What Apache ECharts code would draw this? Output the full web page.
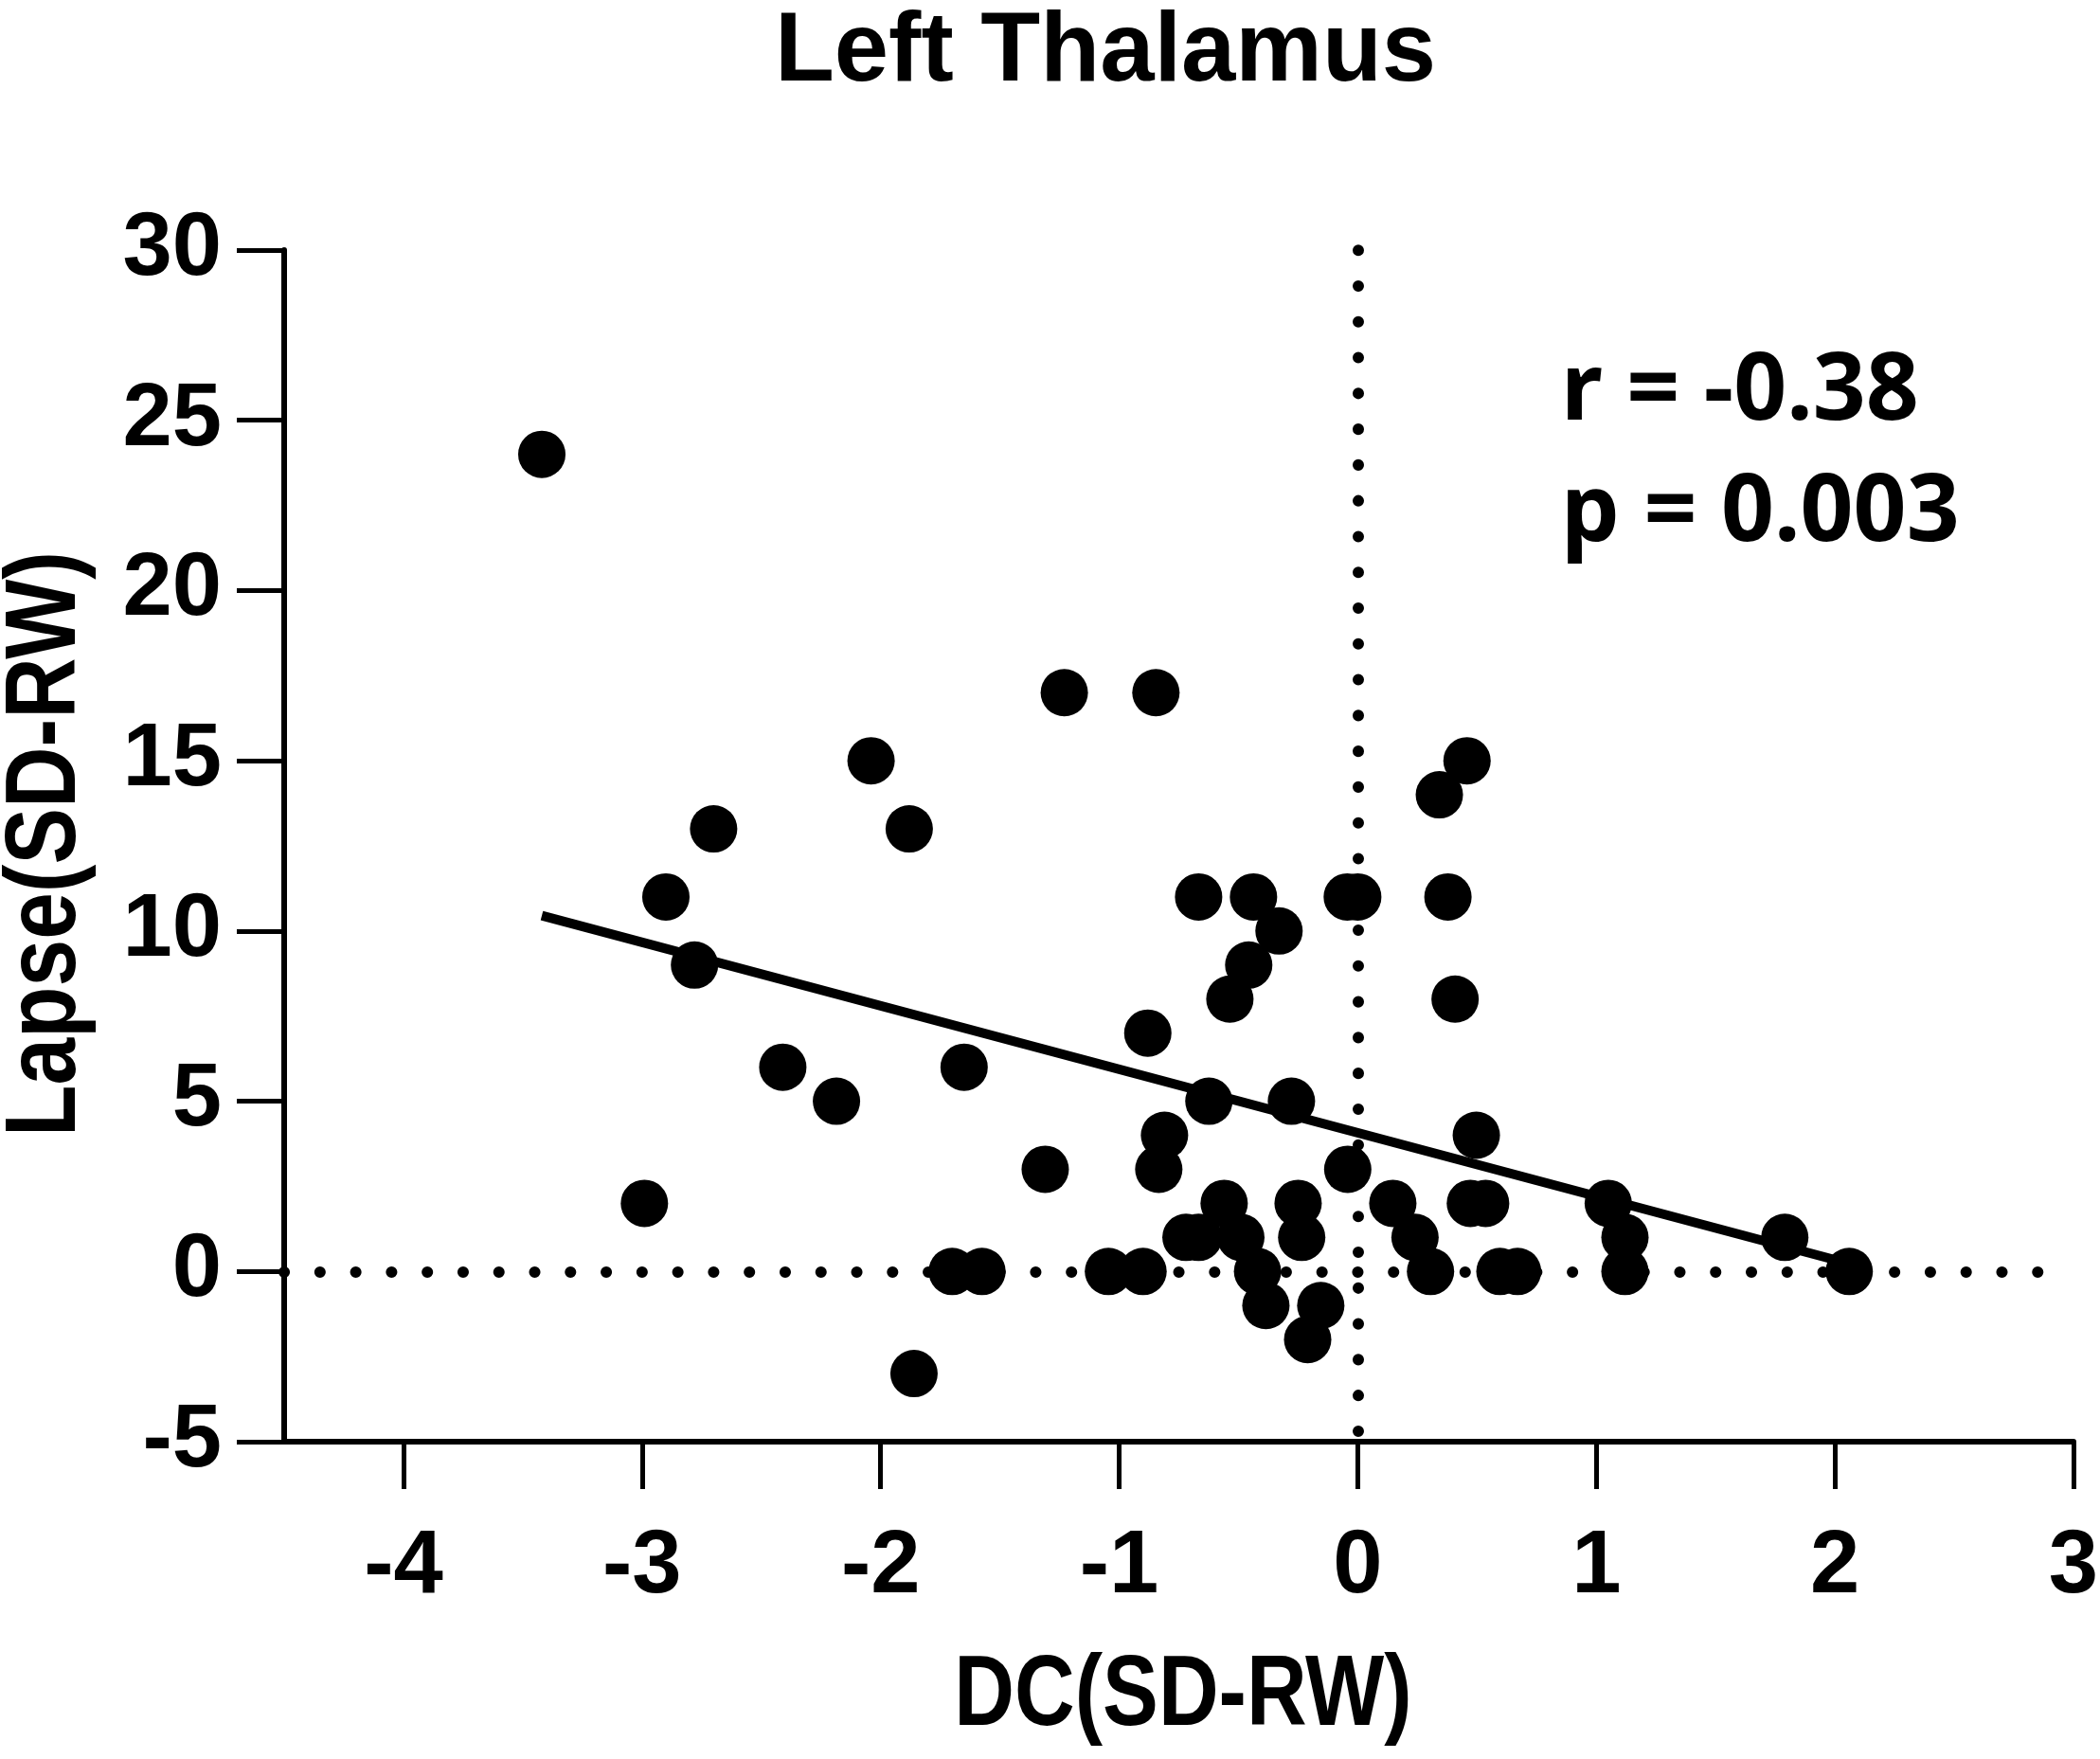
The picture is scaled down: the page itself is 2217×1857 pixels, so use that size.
<!DOCTYPE html>
<html><head><meta charset="utf-8">
<script src="https://cdn.jsdelivr.net/npm/echarts@6/dist/echarts.min.js"></script>
<style>html,body{margin:0;padding:0;background:#fff}#c{width:2217px;height:1857px}</style>
</head><body><div id="c"></div>
<script>
// ---- data ----
const xValues = [-3.42, -2.99, -2.90, -2.78, -2.70, -2.41, -2.185, -2.04, -1.88, -1.86,
  -1.70, -1.65, -1.575, -1.31, -1.23, -1.045, -0.90, -0.88, -0.846, -0.834,
  -0.81, -0.72, -0.667, -0.667, -0.624, -0.56, -0.536, -0.49, -0.457, -0.437,
  -0.42, -0.385, -0.33, -0.278, -0.25, -0.235, -0.21, -0.155, -0.042, -0.044,
  0.0, 0.147, 0.24, 0.305, 0.342, 0.378, 0.408, 0.458, 0.472, 0.497,
  0.536, 0.596, 0.67, 1.05, 1.12, 1.12, 1.79, 2.06];
const yValues = [24, 2, 11, 9, 13, 6, 5, 15, 13, -3,
  0, 6, 0, 3, 17, 0, 0, 7, 17, 3,
  4, 1, 1, 11, 5, 2, 8, 1, 9, 11,
  0, -1, 10, 5, 2, 1, -2, -1, 3, 11,
  11, 2, 1, 0, 14, 11, 8, 15, 2, 4,
  2, 0, 0, 2, 1, 0, 1, 0];
const fitX = [-3.42, 2.06];
const fitY = [10.45, 0.23];
const xTicks = [-4, -3, -2, -1, 0, 1, 2, 3];
const yTicks = [-5, 0, 5, 10, 15, 20, 25, 30];
const titleText = 'Left Thalamus';
const xName = 'DC(SD-RW)';
const yName = 'Lapse(SD-RW)';
const statLines = ['r = -0.38', 'p = 0.003'];

// ---- chart ----
const points = xValues.map((x, i) => [x, yValues[i]]);
const fitLine = fitX.map((x, i) => [x, fitY[i]]);
const tickFont = { fontFamily: 'Liberation Sans, Arial, sans-serif', fontWeight: 'bold', fontSize: 94, color: '#000' };
const nameFontCss = 'bold 105px "Liberation Sans", Arial, sans-serif';
const dotStyle = { color: '#000', width: 12, type: [0.1, 37.68], cap: 'round' };

const chart = echarts.init(document.getElementById('c'));
chart.setOption({
  backgroundColor: '#fff',
  animation: false,
  title: {
    text: titleText, left: 1162, top: 0, textAlign: 'center',
    textStyle: { fontFamily: 'Liberation Sans, Arial, sans-serif', fontWeight: 'bold', fontSize: 103, color: '#000' }
  },
  grid: { left: 300, right: 28, top: 264, bottom: 335, outerBoundsMode: 'none', containLabel: false },
  xAxis: {
    type: 'value', min: -4.5, max: 3,
    splitLine: { show: false },
    axisLine: { onZero: false, lineStyle: { color: '#000', width: 6 } },
    axisTick: { show: true, customValues: xTicks, length: 50, lineStyle: { color: '#000', width: 5 } },
    axisLabel: Object.assign({ customValues: xTicks, margin: 86 }, tickFont)
  },
  yAxis: {
    type: 'value', min: -5, max: 30, interval: 5,
    splitLine: { show: false },
    axisLine: { onZero: false, show: true, lineStyle: { color: '#000', width: 6 } },
    axisTick: { show: true, customValues: yTicks, length: 50, lineStyle: { color: '#000', width: 5 } },
    axisLabel: Object.assign({ customValues: yTicks, margin: 66 }, tickFont)
  },
  graphic: [
    {
      type: 'text', x: 1249, y: 1792, scaleX: 0.84, z: 10,
      style: { text: xName, font: nameFontCss, fill: '#000', align: 'center', verticalAlign: 'middle' }
    },
    {
      type: 'text', x: 50, y: 891, rotation: Math.PI / 2, scaleX: 0.85, z: 10,
      style: { text: yName, font: nameFontCss, fill: '#000', align: 'center', verticalAlign: 'middle' }
    }
  ].concat(statLines.map((t, i) => ({
    type: 'text', left: 1648, top: 366 + i * 128, z: 10,
    style: { text: t, font: 'bold 98px "Noto Sans", "Open Sans", sans-serif', fill: '#000' }
  }))),
  series: [
    {
      type: 'line', data: fitLine, symbol: 'none', z: 2,
      lineStyle: { color: '#000', width: 10 },
      markLine: {
        silent: true, symbol: 'none', label: { show: false },
        lineStyle: dotStyle,
        data: [
          { yAxis: 0 },
          { xAxis: 0, lineStyle: Object.assign({ dashOffset: 26.78 }, dotStyle) }
        ]
      }
    },
    {
      type: 'scatter', data: points, symbol: 'circle', symbolSize: 50, z: 3,
      itemStyle: { color: '#000', opacity: 1 }
    }
  ]
});
</script></body></html>
